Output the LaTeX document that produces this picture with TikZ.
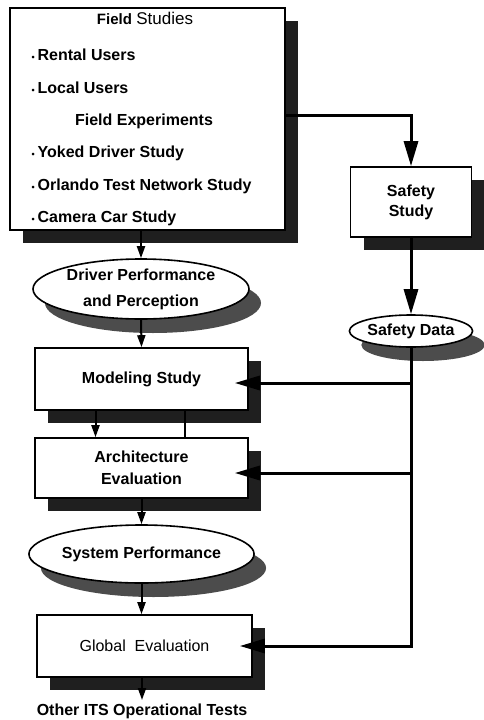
\documentclass[tikz,border=0pt]{standalone}
\usepackage{fontspec}
\setmainfont{Liberation Sans}
\usetikzlibrary{arrows.meta,shadows,shapes.geometric}

\newcommand{\fsbullet}{{\fontsize{9}{9}\selectfont\textbullet}\hspace{3pt}}

\tikzset{
    box/.style={draw, line width=1.6pt, fill=white, inner sep=0pt, align=center,
        drop shadow={shadow xshift=13pt, shadow yshift=-13pt, fill=black!88, opacity=1}},
    oval/.style={ellipse, draw, line width=1.6pt, fill=white, inner sep=0pt, align=center,
        drop shadow={shadow xshift=12pt, shadow yshift=-14pt, fill=black!70, opacity=1}},
    bigarrow/.style={line width=3pt, -{Triangle[length=25pt,width=14pt]}},
    smallarrow/.style={line width=2pt, -{Triangle[length=12pt,width=8pt]}},
}

\begin{document}
\begin{tikzpicture}[x=1pt, y=-1pt, font=\fontsize{16}{20}\selectfont\bfseries]
        \useasboundingbox (0,0) rectangle (483,720);

        \node[box, minimum width=275pt, minimum height=222pt] (field) at (147.5,119) {};
        \node (fshead) at (145,18) {{\fontsize{15}{18}\selectfont Field} {\mdseries\fontsize{17}{20}\selectfont Studies}};
        \node[anchor=west] (rental) at (28,55) {\fsbullet Rental Users};
        \node[anchor=west] (local) at (28,88) {\fsbullet Local Users};
        \node (fexp) at (144,121) {Field Experiments};
        \node[anchor=west] (yoked) at (28,153) {\fsbullet Yoked Driver Study};
        \node[anchor=west] (orlando) at (28,186) {\fsbullet Orlando Test Network Study};
        \node[anchor=west] (camera) at (28,218) {\fsbullet Camera Car Study};

        \node[box, minimum width=121pt, minimum height=70pt] (safety) at (411,202) {Safety\\Study};
        \node[oval, minimum width=120pt, minimum height=32pt] (data) at (411,331) {Safety Data};

        \node[oval, minimum width=216pt, minimum height=60pt] (driver) at (141,289) {Driver Performance\\[6pt]and Perception};
        \node[box, minimum width=213pt, minimum height=62pt] (model) at (141.5,379) {Modeling Study};
        \node[box, minimum width=213pt, minimum height=60pt] (arch) at (141.5,468) {Architecture\\[2pt]Evaluation};
        \node[oval, minimum width=217pt, minimum height=58pt] (sysperf) at (141.5,554) {System Performance};
        \node[box, minimum width=215pt, minimum height=62pt, font=\fontsize{16}{20}\selectfont\mdseries] (global) at (144.5,646) {Global\ \ Evaluation};
        \node (other) at (142,711) {Other ITS Operational Tests};

        \coordinate (tm) at (411,383);
        \coordinate (ta) at (411,473);

        \draw[bigarrow] ([yshift=4pt]field.east) -| (safety.north);
        \draw[bigarrow] (safety.south) -- (data.north);
        \draw[bigarrow, shorten >=-13pt] (data.south) |- (global.east);
        \draw[bigarrow, shorten >=-14pt] (tm) -- (tm -| model.east);
        \draw[bigarrow, shorten >=-14pt] (ta) -- (ta -| arch.east);

        \draw[smallarrow] (driver.north |- field.south) -- (driver.north);
        \draw[smallarrow] (driver.south) -- (model.north);
        \draw[smallarrow] ([xshift=-46pt]model.south) -- ([xshift=-46pt]arch.north);
        \draw[line width=2pt] ([xshift=43pt]arch.north) -- ([xshift=43pt]model.south);
        \draw[smallarrow] (arch.south) -- (sysperf.north);
        \draw[smallarrow] (sysperf.south) -- (sysperf.south |- global.north);
        \draw[smallarrow] (global.south -| other.north) -- (other.north);
    \end{tikzpicture}
\end{document}
